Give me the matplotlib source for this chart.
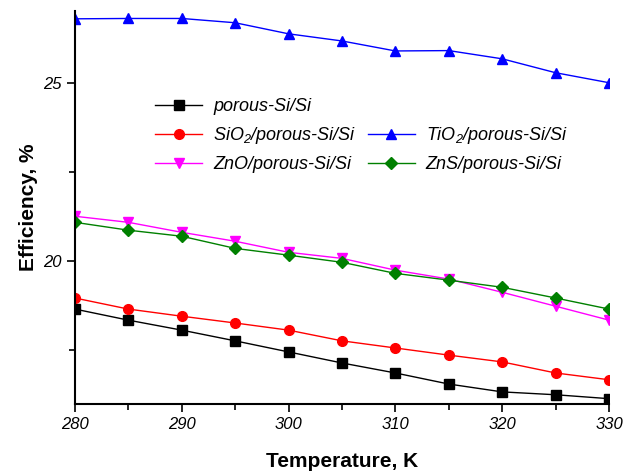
import matplotlib
matplotlib.use("Agg")
import matplotlib.pyplot as plt
from matplotlib.lines import Line2D
from matplotlib.ticker import MultipleLocator

plt.rcParams['font.family'] = ['Liberation Sans', 'DejaVu Sans']
plt.rcParams['mathtext.fontset'] = 'custom'
plt.rcParams['mathtext.rm'] = 'Liberation Sans:italic'
plt.rcParams['mathtext.it'] = 'Liberation Sans:italic'

temperature = [280, 285, 290, 295, 300, 305, 310, 315, 320, 325, 330]
porous_si = [18.66, 18.35, 18.07, 17.77, 17.46, 17.15, 16.87, 16.56, 16.34, 16.26, 16.15]
sio2 = [18.97, 18.66, 18.46, 18.27, 18.07, 17.77, 17.57, 17.37, 17.18, 16.87, 16.68]
tio2 = [26.79, 26.8, 26.8, 26.68, 26.37, 26.17, 25.89, 25.9, 25.67, 25.28, 25.0]
zno = [21.26, 21.09, 20.81, 20.56, 20.25, 20.08, 19.75, 19.5, 19.13, 18.74, 18.35]
zns = [21.09, 20.87, 20.7, 20.36, 20.17, 19.97, 19.66, 19.47, 19.27, 18.97, 18.66]

fig = plt.figure(figsize=(6.24, 4.72), dpi=100)
ax = fig.add_axes([0.12, 0.144, 0.856, 0.832])

l1, = ax.plot(temperature, porous_si, color='black', marker='s', ms=6.5, lw=1, label='porous-Si/Si')
l2, = ax.plot(temperature, sio2, color='red', marker='o', ms=7, lw=1, label=r'SiO$_{2}$/porous-Si/Si')
l3, = ax.plot(temperature, tio2, color='blue', marker='^', ms=7.5, lw=1, label=r'TiO$_{2}$/porous-Si/Si')
l4, = ax.plot(temperature, zno, color='magenta', marker='v', ms=7.5, lw=1, label='ZnO/porous-Si/Si')
l5, = ax.plot(temperature, zns, color='#008000', marker='D', ms=6.5, lw=1, label='ZnS/porous-Si/Si')

blank = Line2D([], [], linestyle='none', marker=None)
ax.legend([l1, l2, l4, blank, l3, l5],
          ['porous-Si/Si', r'SiO$_{2}$/porous-Si/Si', 'ZnO/porous-Si/Si', '',
           r'TiO$_{2}$/porous-Si/Si', 'ZnS/porous-Si/Si'],
          ncol=2, frameon=False, prop={'style': 'italic', 'size': 13},
          loc='upper left', bbox_to_anchor=(0.12, 0.82),
          handlelength=2.6, handletextpad=0.6, columnspacing=0.65, labelspacing=0.55)

ax.set_xlim(280, 330)
ax.set_ylim(16, 27)
ax.xaxis.set_major_locator(MultipleLocator(10))
ax.xaxis.set_minor_locator(MultipleLocator(5))
ax.yaxis.set_major_locator(MultipleLocator(5))
ax.yaxis.set_minor_locator(MultipleLocator(2.5))
ax.tick_params(which='major', direction='out', length=6, width=1.2, labelsize=12)
ax.tick_params(which='minor', direction='out', length=4, width=1.2)
for lab in ax.get_xticklabels() + ax.get_yticklabels():
    lab.set_fontstyle('italic')

for s in ['top', 'right']:
    ax.spines[s].set_visible(False)
for s in ['left', 'bottom']:
    ax.spines[s].set_linewidth(1.5)

ax.set_xlabel('Temperature, K', fontsize=15, fontweight='bold', labelpad=14)
ax.set_ylabel('Efficiency, %', fontsize=15, fontweight='bold', labelpad=4)

fig.savefig('out.png', dpi=100)
